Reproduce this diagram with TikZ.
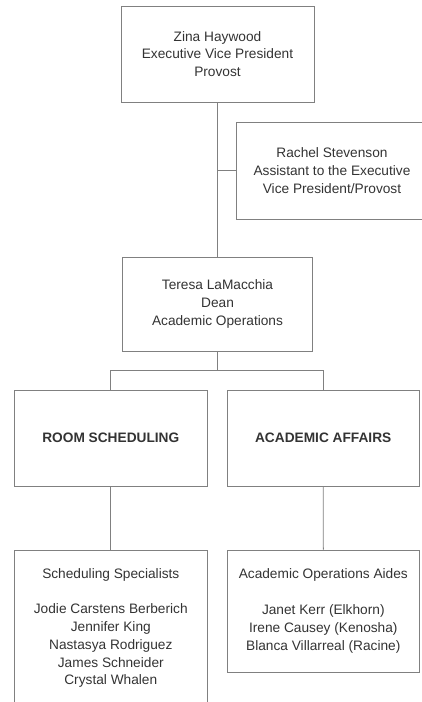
\documentclass[tikz,border=0pt]{standalone}
\usepackage{fontspec}
\setmainfont{Liberation Sans}
\begin{document}
\begin{tikzpicture}[x=1pt,y=-1pt,
  box/.style={draw=linegray, line width=0.9pt, inner sep=0pt, align=center,
    text=textgray, font=\fontsize{13.7}{17.8}\selectfont},
  conn/.style={draw=linegray, line width=0.9pt}]
\definecolor{linegray}{HTML}{808080}
\definecolor{textgray}{HTML}{333333}
\useasboundingbox (0,0) rectangle (422,702);
\node[box, minimum width=193pt, minimum height=96pt] (zina) at (217.5,54)
  {Zina Haywood\\Executive Vice President\\Provost};
\node[box, minimum width=192pt, minimum height=97pt] (rachel) at (332,170.5)
  {Rachel Stevenson\\Assistant to the Executive\\Vice President/Provost};
\node[box, minimum width=190pt, minimum height=94pt] (teresa) at (217.5,304)
  {Teresa LaMacchia\\Dean\\Academic Operations};
\node[box, minimum width=193pt, minimum height=96pt] (rs) at (110.8,438)
  {\bfseries ROOM SCHEDULING};
\node[box, minimum width=192.3pt, minimum height=96pt] (aa) at (323.2,438)
  {\bfseries ACADEMIC AFFAIRS};
\node[box, minimum width=193pt, minimum height=156pt] (ss) at (110.8,628)
  {Scheduling Specialists\\[17.8pt]Jodie Carstens Berberich\\Jennifer King\\Nastasya Rodriguez\\James Schneider\\Crystal Whalen};
\node[box, minimum width=191.3pt, minimum height=122pt] (aoa) at (323.3,611)
  {Academic Operations Aides\\[17.8pt]Janet Kerr (Elkhorn)\\Irene Causey (Kenosha)\\Blanca Villarreal (Racine)};
\coordinate (bus) at (0,370);
\draw[conn] (zina.south) -- (teresa.north);
\draw[conn] (zina.south |- rachel.west) -- (rachel.west);
\draw[conn] (teresa.south) -- (teresa.south |- bus);
\draw[conn] (rs.north) -- (rs.north |- bus) -- (aa.north |- bus) -- (aa.north);
\draw[conn] (rs.south) -- (ss.north);
\draw[conn] (aa.south) -- (aoa.north);
\end{tikzpicture}
\end{document}
